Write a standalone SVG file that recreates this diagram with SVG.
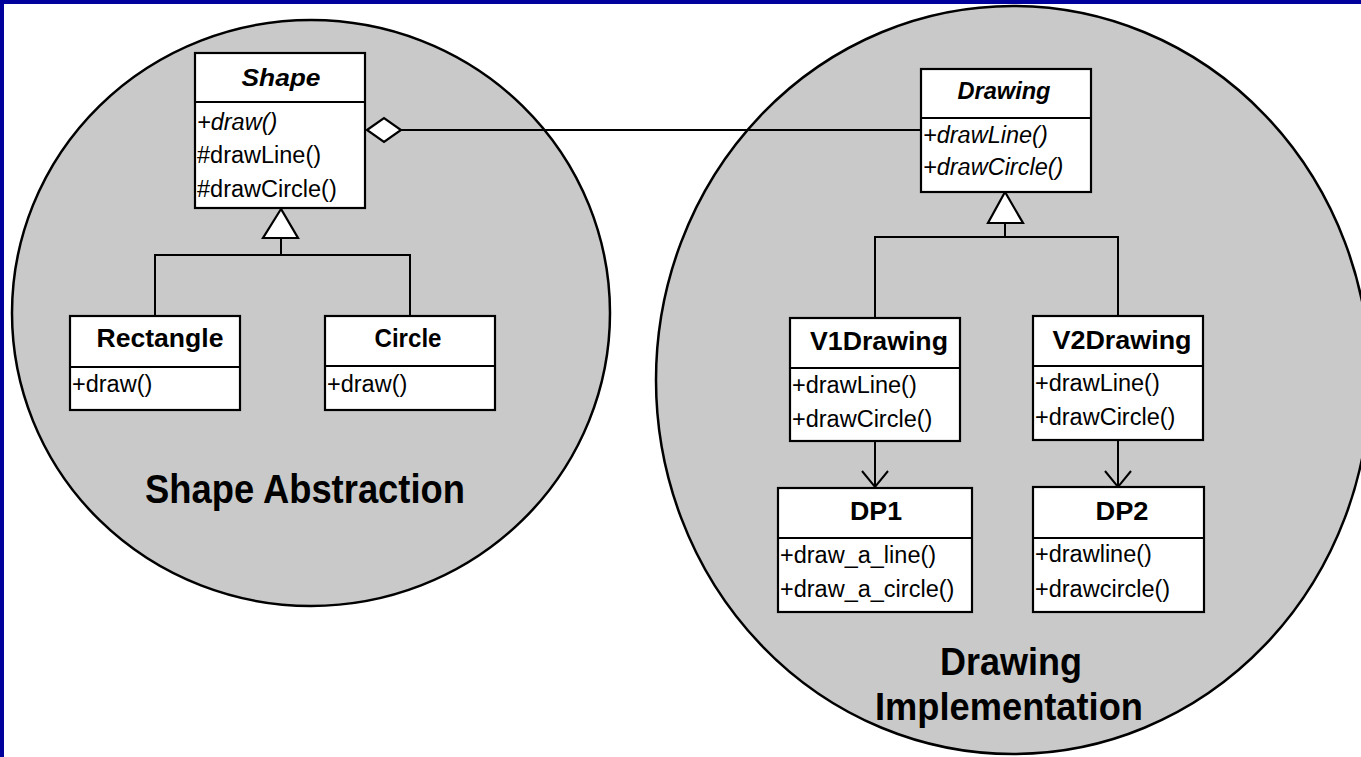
<svg xmlns="http://www.w3.org/2000/svg" width="1361" height="757" viewBox="0 0 1361 757">
<style>
.bg{fill:#ffffff}
.region{fill:#c9c9c9;stroke:#000;stroke-width:2.5}
.box{fill:#fff;stroke:#000;stroke-width:2.2}
.ln{stroke:#000;stroke-width:2;fill:none}
.tri{fill:#fff;stroke:#000;stroke-width:2.2}
.t{font-family:"Liberation Sans",Arial,sans-serif;font-size:23.5px;fill:#000}
.ti{font-family:"Liberation Sans",Arial,sans-serif;font-size:23.5px;font-style:italic;fill:#000}
.h{font-family:"Liberation Sans",Arial,sans-serif;font-size:25px;font-weight:bold;fill:#000;text-anchor:middle}
.hi{font-family:"Liberation Sans",Arial,sans-serif;font-size:24px;font-weight:bold;font-style:italic;fill:#000;text-anchor:middle}
.big{font-family:"Liberation Sans",Arial,sans-serif;font-weight:bold;fill:#000;text-anchor:middle}
</style>
<rect class="bg" x="0" y="0" width="1361" height="757"/>
<g id="regions">
<ellipse id="shape-abstraction-region" class="region" cx="311" cy="313" rx="299" ry="293"/>
<ellipse id="drawing-implementation-region" class="region" cx="1013" cy="380" rx="357" ry="374"/>
</g>
<rect x="0" y="0" width="1361" height="4" fill="#00009c"/>
<rect x="0" y="0" width="4" height="757" fill="#00009c"/>
<g id="connectors">
<line class="ln" x1="401" y1="130" x2="921" y2="130"/>
<polygon class="tri" points="367,130 384,118 401,130 384,142"/>
<polyline class="ln" points="281,238 281,255"/>
<polyline class="ln" points="155,316 155,255 410,255 410,316"/>
<polygon class="tri" points="281,209 263,238 298,238"/>
<polyline class="ln" points="1005,223 1005,237"/>
<polyline class="ln" points="875,318 875,237 1118,237 1118,316"/>
<polygon class="tri" points="1005,192 988,223 1023,223"/>
<line class="ln" x1="875" y1="441" x2="875" y2="487"/>
<polyline class="ln" points="862,471 875,487 888,471"/>
<line class="ln" x1="1118" y1="440" x2="1118" y2="487"/>
<polyline class="ln" points="1105,471 1118,487 1131,471"/>
</g>
<g id="Shape">
<rect class="box" x="195" y="53" width="170" height="155"/>
<line class="ln" x1="195" y1="102" x2="365" y2="102"/>
<text class="hi" x="281" y="86" textLength="79" lengthAdjust="spacingAndGlyphs">Shape</text>
<text class="ti" x="197" y="130">+draw()</text>
<text class="t" x="197" y="163">#drawLine()</text>
<text class="t" x="197" y="197">#drawCircle()</text>
</g>
<g id="Drawing">
<rect class="box" x="921" y="69" width="170" height="123"/>
<line class="ln" x1="921" y1="118" x2="1091" y2="118"/>
<text class="hi" x="1004" y="99" textLength="93" lengthAdjust="spacingAndGlyphs">Drawing</text>
<text class="ti" x="923" y="143">+drawLine()</text>
<text class="ti" x="923" y="175">+drawCircle()</text>
</g>
<g id="Rectangle">
<rect class="box" x="70" y="316" width="170" height="94"/>
<line class="ln" x1="70" y1="367" x2="240" y2="367"/>
<text class="h" x="160" y="347" textLength="127" lengthAdjust="spacingAndGlyphs">Rectangle</text>
<text class="t" x="72" y="392">+draw()</text>
</g>
<g id="Circle">
<rect class="box" x="325" y="316" width="170" height="94"/>
<line class="ln" x1="325" y1="366" x2="495" y2="366"/>
<text class="h" x="408" y="347" textLength="67" lengthAdjust="spacingAndGlyphs">Circle</text>
<text class="t" x="327" y="392">+draw()</text>
</g>
<g id="V1Drawing">
<rect class="box" x="790" y="318" width="170" height="123"/>
<line class="ln" x1="790" y1="368" x2="960" y2="368"/>
<text class="h" x="879" y="350" textLength="138" lengthAdjust="spacingAndGlyphs">V1Drawing</text>
<text class="t" x="792" y="393">+drawLine()</text>
<text class="t" x="792" y="427">+drawCircle()</text>
</g>
<g id="V2Drawing">
<rect class="box" x="1033" y="316" width="170" height="124"/>
<line class="ln" x1="1033" y1="366" x2="1203" y2="366"/>
<text class="h" x="1122" y="349" textLength="139" lengthAdjust="spacingAndGlyphs">V2Drawing</text>
<text class="t" x="1035" y="391">+drawLine()</text>
<text class="t" x="1035" y="425">+drawCircle()</text>
</g>
<g id="DP1">
<rect class="box" x="778" y="488" width="194" height="124"/>
<line class="ln" x1="778" y1="538" x2="972" y2="538"/>
<text class="h" x="876" y="520" textLength="52" lengthAdjust="spacingAndGlyphs">DP1</text>
<text class="t" x="780" y="563">+draw_a_line()</text>
<text class="t" x="780" y="597">+draw_a_circle()</text>
</g>
<g id="DP2">
<rect class="box" x="1033" y="487" width="171" height="125"/>
<line class="ln" x1="1033" y1="538" x2="1204" y2="538"/>
<text class="h" x="1122" y="520" textLength="53" lengthAdjust="spacingAndGlyphs">DP2</text>
<text class="t" x="1035" y="562">+drawline()</text>
<text class="t" x="1035" y="597">+drawcircle()</text>
</g>
<g id="labels">
<text class="big" x="305" y="503" font-size="41" textLength="320" lengthAdjust="spacingAndGlyphs">Shape Abstraction</text>
<text class="big" x="1011" y="675" font-size="39" textLength="142" lengthAdjust="spacingAndGlyphs">Drawing</text>
<text class="big" x="1009" y="720" font-size="39" textLength="268" lengthAdjust="spacingAndGlyphs">Implementation</text>
</g>
</svg>
